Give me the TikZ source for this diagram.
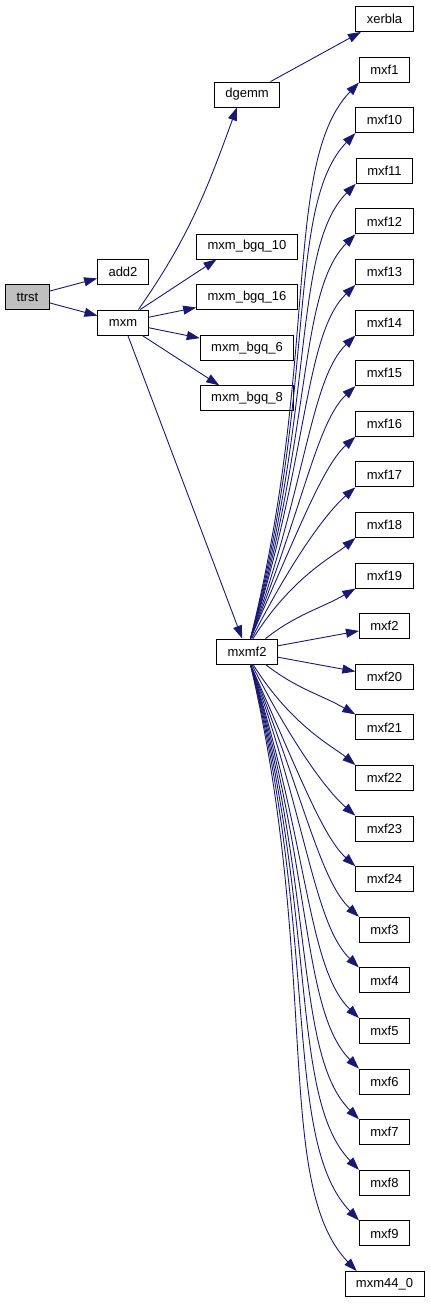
\documentclass[tikz,border=0pt]{standalone}
\usepackage{fontspec}
\setmainfont{Liberation Sans}
\usetikzlibrary{positioning,arrows.meta}
\definecolor{midnight}{HTML}{191970}

\begin{document}
\begin{tikzpicture}[x=1pt,y=1pt,node distance=24.7pt,box/.style={draw,line width=0.9pt,fill=white,minimum height=25pt,inner xsep=11pt,inner ysep=0pt,font=\fontsize{13}{15}\selectfont},line/.style={-{Triangle[length=13pt,width=9pt]},midnight,line width=0.9pt},fan/.style={out looseness=1.3,in looseness=0.5}]
\useasboundingbox (0,0) rectangle (429,-1304);
\node[box,fill=black!25] (t) at (27.5,-297) {ttrst};
\node[box] (a) at (123,-271.5) {add2};
\node[box] (m) at (123,-322.5) {mxm};
\node[box] (d) at (247,-94.5) {dgemm};
\node[box] (b10) at (247,-246.5) {mxm\_bgq\_10};
\node[box,below=of b10] (b16) {mxm\_bgq\_16};
\node[box,below=of b16] (b6) {mxm\_bgq\_6};
\node[box,below=of b6] (b8) {mxm\_bgq\_8};
\node[box] (m2) at (247,-651.5) {mxmf2};
\node[box] (x) at (384.5,-19) {xerbla};
\node[box,below=of x] (f1) {mxf1};
\node[box,below=of f1] (f10) {mxf10};
\node[box,below=of f10] (f11) {mxf11};
\node[box,below=of f11] (f12) {mxf12};
\node[box,below=of f12] (f13) {mxf13};
\node[box,below=of f13] (f14) {mxf14};
\node[box,below=of f14] (f15) {mxf15};
\node[box,below=of f15] (f16) {mxf16};
\node[box,below=of f16] (f17) {mxf17};
\node[box,below=of f17] (f18) {mxf18};
\node[box,below=of f18] (f19) {mxf19};
\node[box,below=of f19] (f2) {mxf2};
\node[box,below=of f2] (f20) {mxf20};
\node[box,below=of f20] (f21) {mxf21};
\node[box,below=of f21] (f22) {mxf22};
\node[box,below=of f22] (f23) {mxf23};
\node[box,below=of f23] (f24) {mxf24};
\node[box,below=of f24] (f3) {mxf3};
\node[box,below=of f3] (f4) {mxf4};
\node[box,below=of f4] (f5) {mxf5};
\node[box,below=of f5] (f6) {mxf6};
\node[box,below=of f6] (f7) {mxf7};
\node[box,below=of f7] (f8) {mxf8};
\node[box,below=of f8] (f9) {mxf9};
\node[box,below=of f9] (m44) {mxm44\_0};
\draw[line] (t)--(a);\draw[line] (t)--(m);
\draw[line] (m.40) to[out=55,in=-110] (d.-128);\draw[line] (d)--(x);
\draw[line] (m.37)--(b10.-157);\draw[line] (m)--(b16);\draw[line] (m)--(b6);\draw[line] (m.-34)--(b8.155);\draw[line] (m)--(m2);
% calls of mxmf2, upper half
\draw[line,fan] (m2.75) to[out=76,in=226] (f1.south west);\draw[line,fan] (m2.75) to[out=75,in=226] (f10.south west);
\draw[line,fan] (m2.75) to[out=74,in=225] (f11.south west);\draw[line,fan] (m2.75) to[out=73,in=225] (f12.south west);
\draw[line,fan] (m2.75) to[out=72,in=224] (f13.south west);\draw[line,fan] (m2.75) to[out=70,in=224] (f14.south west);
\draw[line,fan] (m2.75) to[out=68,in=223] (f15.south west);\draw[line,fan] (m2.75) to[out=66,in=222] (f16.south west);
\draw[line,fan] (m2.70) to[out=63,in=221] (f17.south west);\draw[line,fan] (m2.65) to[out=58,in=220] (f18.south west);
\draw[line] (m2.35) to[out=38,in=210] (f19.south west);\draw[line] (m2)--(f2);
% lower half
\draw[line] (m2)--(f20);\draw[line] (m2.-35) to[out=-38,in=150] (f21.north west);
\draw[line,fan] (m2.-65) to[out=-58,in=140] (f22.north west);\draw[line,fan] (m2.-70) to[out=-63,in=139] (f23.north west);
\draw[line,fan] (m2.-75) to[out=-66,in=138] (f24.north west);\draw[line,fan] (m2.-75) to[out=-68,in=137] (f3.north west);
\draw[line,fan] (m2.-75) to[out=-70,in=136] (f4.north west);\draw[line,fan] (m2.-75) to[out=-72,in=136] (f5.north west);
\draw[line,fan] (m2.-75) to[out=-73,in=135] (f6.north west);\draw[line,fan] (m2.-75) to[out=-74,in=135] (f7.north west);
\draw[line,fan] (m2.-75) to[out=-75,in=134] (f8.north west);\draw[line,fan] (m2.-75) to[out=-76,in=134] (f9.north west);
\draw[line,fan] (m2.-75) to[out=-77,in=134] (m44.155);
\end{tikzpicture}
\end{document}
